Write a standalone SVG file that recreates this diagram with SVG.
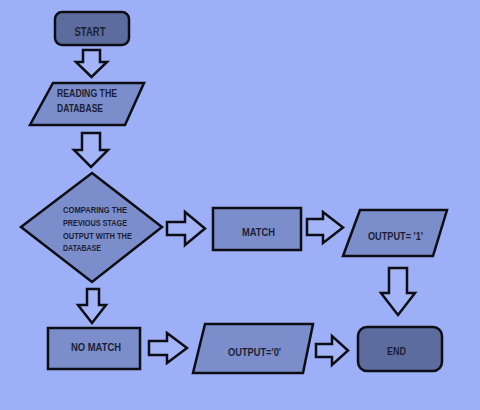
<svg xmlns="http://www.w3.org/2000/svg" width="480" height="410" viewBox="0 0 480 410">
<style>
.bg{fill:#9daff6}
.shape{fill:#7c8dcb;stroke:#0d0d14;stroke-width:2.5;stroke-linejoin:miter}
.term{fill:#5d6c9e;stroke:#0d0d14;stroke-width:2.5}
.arrow{fill:#a3b5f8;stroke:#0d0d14;stroke-width:2.5;stroke-linejoin:miter}
text{font-family:"Liberation Sans",Arial,sans-serif;font-weight:bold;fill:#1a1f35}
.big{font-size:13px}
.mid{font-size:11px}
.sm{font-size:9.5px}
</style>
<rect class="bg" x="0" y="0" width="480" height="410"/>
<g id="connectors">
<polygon class="arrow" points="83,50 100,50 100,62 107,62 91.5,77 76,62 83,62"/>
<polygon class="arrow" points="82,133 100,133 100,150 108,150 91,167 74,150 82,150"/>
<polygon class="arrow" points="167,222 185,222 185,212 205,228.5 185,245 185,235 167,235"/>
<polygon class="arrow" points="307,219 323,219 323,212 343,227.5 323,243 323,235 307,235"/>
<polygon class="arrow" points="389,268 407,268 407,293 415,293 398,315 381,293 389,293"/>
<polygon class="arrow" points="87,289 99,289 99,305 106,305 92,323 78,305 87,305"/>
<polygon class="arrow" points="149,341 167,341 167,333 187,348 167,363 167,355 149,355"/>
<polygon class="arrow" points="316,344 332,344 332,336 348,350.5 332,365 332,357 316,357"/>
</g>
<g id="start">
<rect class="term" x="55" y="12" width="74" height="33" rx="7"/>
<text class="big" x="90" y="35.5" text-anchor="middle" textLength="31" lengthAdjust="spacingAndGlyphs">START</text>
</g>
<g id="reading">
<polygon class="shape" points="53,83 144,83 125,125 30,125"/>
<text class="mid" x="57" y="97" textLength="60" lengthAdjust="spacingAndGlyphs">READING THE</text>
<text class="mid" x="57" y="112" textLength="46" lengthAdjust="spacingAndGlyphs">DATABASE</text>
</g>
<g id="compare">
<polygon class="shape" points="92,173 162,227 92,282 21,227"/>
<text class="sm" x="63" y="213" textLength="64" lengthAdjust="spacingAndGlyphs">COMPARING THE</text>
<text class="sm" x="63" y="226" textLength="64" lengthAdjust="spacingAndGlyphs">PREVIOUS STAGE</text>
<text class="sm" x="63" y="239" textLength="69" lengthAdjust="spacingAndGlyphs">OUTPUT WITH THE</text>
<text class="sm" x="63" y="251" textLength="38" lengthAdjust="spacingAndGlyphs">DATABASE</text>
</g>
<g id="match">
<rect class="shape" x="213" y="208" width="88" height="42"/>
<text class="mid" x="242" y="236" textLength="33" lengthAdjust="spacingAndGlyphs">MATCH</text>
</g>
<g id="output1">
<polygon class="shape" points="360,210 447,210 433,256 343,256"/>
<text class="mid" x="368" y="240" textLength="55" lengthAdjust="spacingAndGlyphs">OUTPUT= '1'</text>
</g>
<g id="nomatch">
<rect class="shape" x="48" y="328" width="92" height="41"/>
<text class="mid" x="71" y="351" textLength="50" lengthAdjust="spacingAndGlyphs">NO MATCH</text>
</g>
<g id="output0">
<polygon class="shape" points="205,324 313,324 303,373 193,373"/>
<text class="mid" x="228" y="356" textLength="53" lengthAdjust="spacingAndGlyphs">OUTPUT='0'</text>
</g>
<g id="end">
<rect class="term" x="358" y="327" width="84" height="44" rx="9"/>
<text class="mid" x="387" y="355" textLength="19" lengthAdjust="spacingAndGlyphs">END</text>
</g>
</svg>
